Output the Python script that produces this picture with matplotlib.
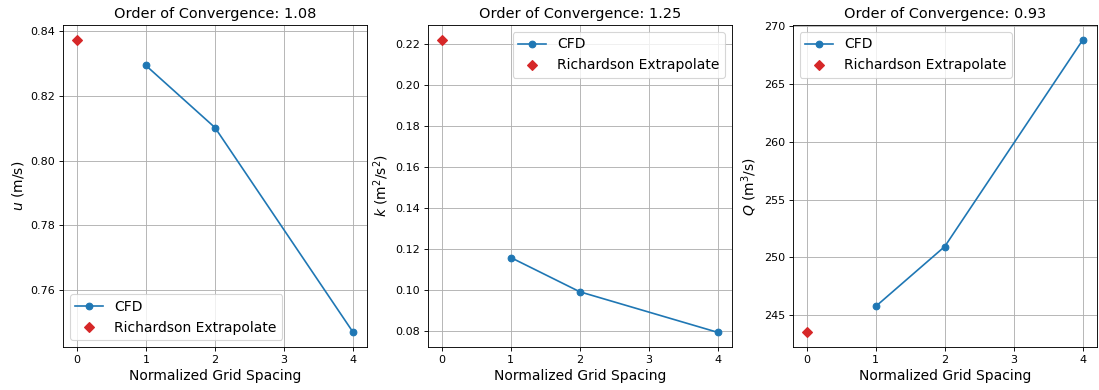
import matplotlib
matplotlib.use("Agg")
from matplotlib import pyplot as plt

# grid spacing (normalized) and values
h = [1, 2, 4]
h_extrap = 0

u_cfd = [0.8294, 0.8102, 0.7469]
u_rich = 0.8374
k_cfd = [0.1159, 0.0992, 0.0794]
k_rich = 0.2221
q_cfd = [245.75, 250.94, 268.85]
q_rich = 243.5

orders = [1.08, 1.25, 0.93]
ylabels = ['$u$ (m/s)', '$k$ (m$^2$/s$^2$)', '$Q$ (m$^3$/s)']
legend_locs = ['lower left', 'upper right', 'upper left']

dpi = 80
fig, axes = plt.subplots(1, 3, figsize=(1099 / dpi, 390 / dpi), dpi=dpi)
fig.subplots_adjust(left=0.0573, right=0.998, top=0.936, bottom=0.110, wspace=0.2)

series = [(u_cfd, u_rich), (k_cfd, k_rich), (q_cfd, q_rich)]
for i, ax in enumerate(axes):
    cfd, rich = series[i]
    ax.plot(h, cfd, marker='o', color='C0', label='CFD')
    ax.plot([h_extrap], [rich], marker='D', linestyle='', color='C3', label='Richardson Extrapolate')
    ax.set_xticks([0, 1, 2, 3, 4])
    ax.grid(True)
    ax.set_xlabel('Normalized Grid Spacing', fontsize=12.5)
    ax.set_ylabel(ylabels[i], fontsize=12.5)
    ax.set_title('Order of Convergence: %.2f' % orders[i], fontsize=13)
    ax.legend(loc=legend_locs[i], fontsize=12.5)

axes[0].set_yticks([0.76, 0.78, 0.80, 0.82, 0.84])
axes[2].set_yticks([245, 250, 255, 260, 265, 270])

fig.savefig('out.png', dpi=dpi)
